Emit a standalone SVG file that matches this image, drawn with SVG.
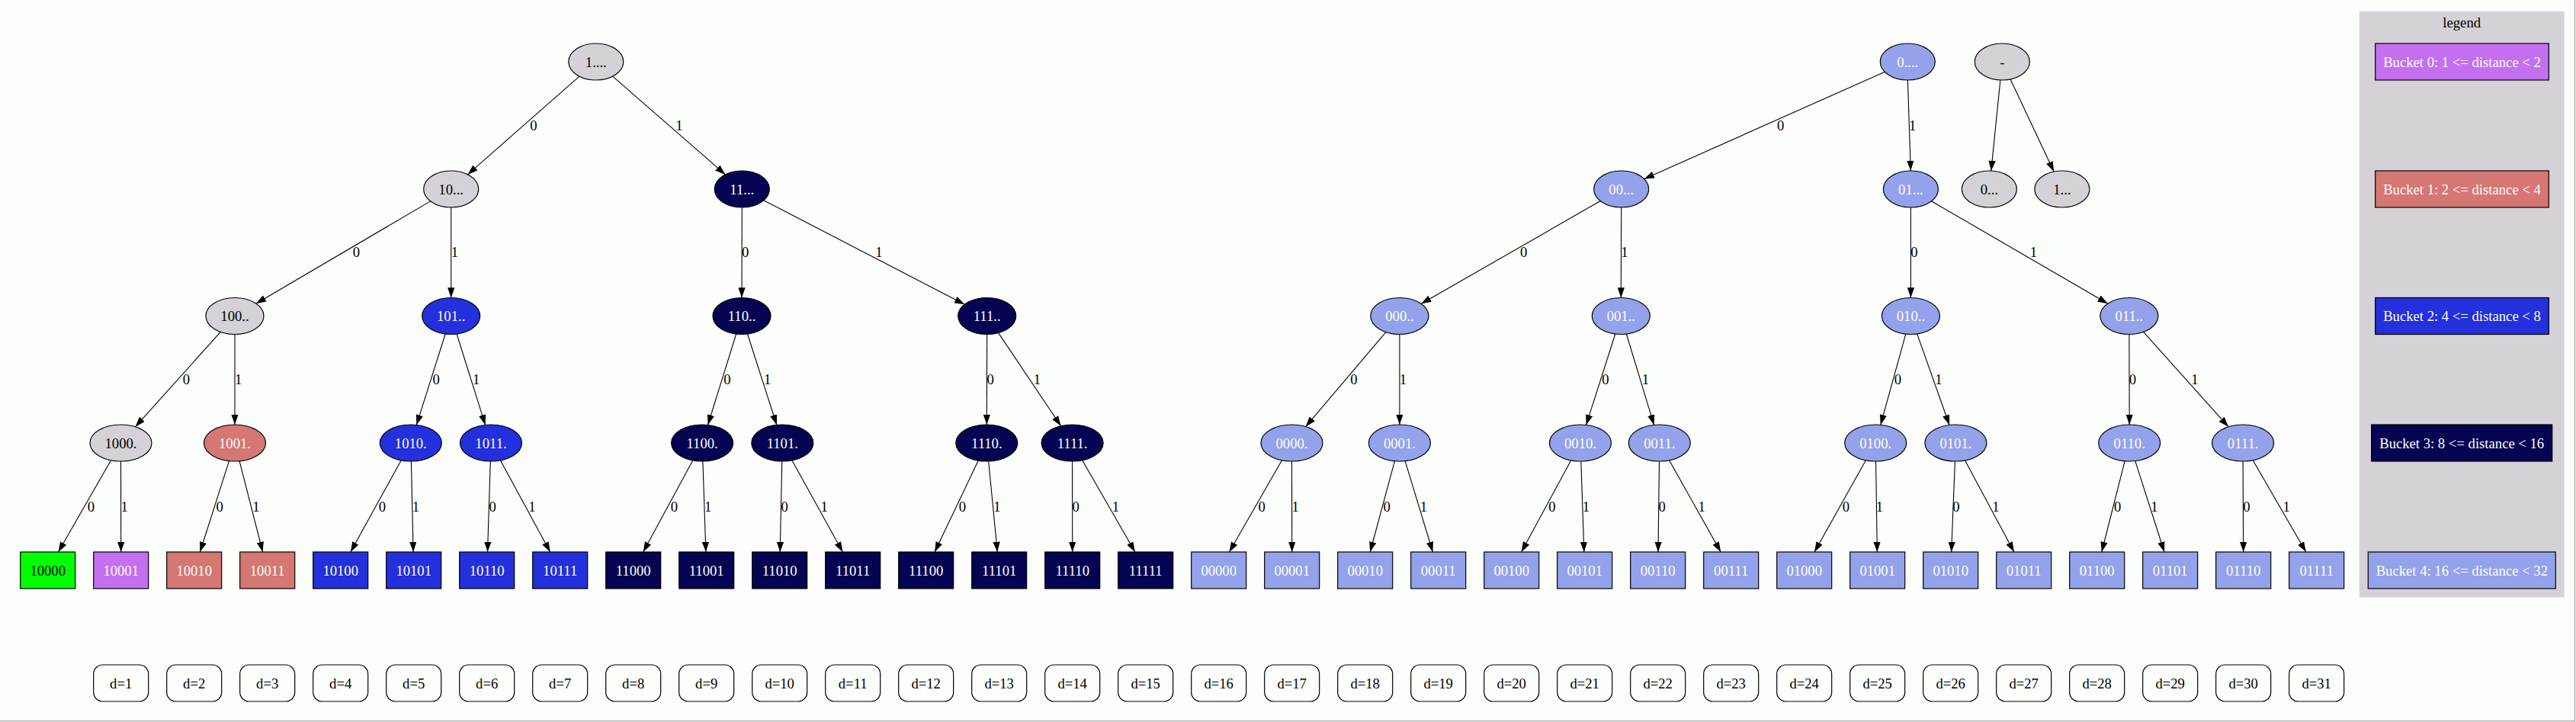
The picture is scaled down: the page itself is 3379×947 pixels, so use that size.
<svg xmlns="http://www.w3.org/2000/svg" width="3379" height="947" viewBox="0 0 3379 947">
<style>
text{font-family:"Liberation Serif","Times New Roman",serif;font-size:18.67px;text-anchor:middle}
.n ellipse,.n rect{stroke:#000;stroke-width:1.2}
.g{fill:#d4d2d6}.b0{fill:#c46ff0}.b1{fill:#d57773}.b2{fill:#2330dc}.b3{fill:#040452}.b4{fill:#93a2ea}.gr{fill:#00ff00}
.tw{fill:#fff}.tk{fill:#000}
.d rect{fill:none;stroke:#000;stroke-width:1.2}
.d text{fill:#000}
#edges path{fill:none;stroke:#000;stroke-width:1.1;marker-end:url(#ah)}
#edges text{fill:#000}
</style>
<defs>
<marker id="ah" markerUnits="userSpaceOnUse" markerWidth="13.3" markerHeight="9.33" viewBox="0 0 13.3 9.33" refX="13.3" refY="4.665" orient="auto"><path d="M0,0 L13.3,4.665 L0,9.33 z" fill="#000"/></marker>
</defs>
<rect x="0" y="0" width="3379" height="947" fill="#fcfefc"/>
<line x1="3377.5" y1="0" x2="3377.5" y2="946" stroke="#b0b0b0" stroke-width="1.5"/>
<line x1="0" y1="945.8" x2="3378" y2="945.8" stroke="#b0b0b0" stroke-width="1.5"/>

<g id="legend">
<rect x="3095" y="15" width="268.3" height="768.3" fill="#d4d2d6" stroke="#e0e0e0"/>
<text x="3229.2" y="35.5">legend</text>
<g id="lg0" class="n"><rect class="b0" x="3115.7" y="57" width="227.6" height="48"/><text class="tw" x="3229.5" y="87.5">Bucket 0: 1 &lt;= distance &lt; 2</text></g>
<g id="lg1" class="n"><rect class="b1" x="3115.7" y="224" width="227.6" height="48"/><text class="tw" x="3229.5" y="254.5">Bucket 1: 2 &lt;= distance &lt; 4</text></g>
<g id="lg2" class="n"><rect class="b2" x="3115.7" y="390.5" width="227.6" height="48"/><text class="tw" x="3229.5" y="421">Bucket 2: 4 &lt;= distance &lt; 8</text></g>
<g id="lg3" class="n"><rect class="b3" x="3110.7" y="557" width="237" height="48"/><text class="tw" x="3229.2" y="587.5">Bucket 3: 8 &lt;= distance &lt; 16</text></g>
<g id="lg4" class="n"><rect class="b4" x="3106.3" y="724" width="246" height="48"/><text class="tw" x="3229.3" y="754.5">Bucket 4: 16 &lt;= distance &lt; 32</text></g>
</g>

<g id="edges">
<path d="M760,100.1 L613.5,228.9"/><text x="700" y="170.5">0</text>
<path d="M803.7,100.1 L951.4,228.9"/><text x="890.8" y="170.5">1</text>
<path d="M564.7,263.9 L335.8,398.2"/><text x="467.3" y="337.3">0</text>
<path d="M591.7,272 L591.7,390.5"/><text x="596.4" y="337.3">1</text>
<path d="M973.3,272 L973,390.5"/><text x="977.7" y="337.3">0</text>
<path d="M1001.7,262.7 L1265.3,399.3"/><text x="1153" y="337.3">1</text>
<path d="M289.3,435.4 L177.5,559.8"/><text x="244.4" y="503.8">0</text>
<path d="M308,438.5 L308,557"/><text x="312.7" y="503.8">1</text>
<path d="M584.2,438 L546.3,557.4"/><text x="572.1" y="503.8">0</text>
<path d="M599.1,438 L636.6,557.4"/><text x="624.6" y="503.8">1</text>
<path d="M965.7,438 L928.5,557.4"/><text x="953.9" y="503.8">0</text>
<path d="M980.5,438 L1018.8,557.4"/><text x="1006.6" y="503.8">1</text>
<path d="M1294.7,438.5 L1294.3,557"/><text x="1299.2" y="503.8">0</text>
<path d="M1309.6,436.6 L1391.6,558.7"/><text x="1360.3" y="503.8">1</text>
<path d="M145.5,603.7 L76.5,724"/><text x="119.4" y="670.5">0</text>
<path d="M158.5,605 L158.7,724"/><text x="163.2" y="670.5">1</text>
<path d="M300.5,604.6 L262.4,724"/><text x="288.2" y="670.5">0</text>
<path d="M314.1,604.7 L344.6,724"/><text x="335.8" y="670.5">1</text>
<path d="M526.2,603.8 L459.9,724"/><text x="501.3" y="670.5">0</text>
<path d="M539.4,605 L542.1,724"/><text x="545.4" y="670.5">1</text>
<path d="M643.3,605 L639.5,724"/><text x="646.1" y="670.5">0</text>
<path d="M656.4,603.8 L721.7,724"/><text x="697.9" y="670.5">1</text>
<path d="M908.7,603.9 L843.7,724"/><text x="884.4" y="670.5">0</text>
<path d="M921.9,605 L925.9,724"/><text x="928.6" y="670.5">1</text>
<path d="M1025.8,605 L1023.2,724"/><text x="1029.2" y="670.5">0</text>
<path d="M1038.9,603.8 L1105.4,724"/><text x="1081.1" y="670.5">1</text>
<path d="M1283.3,604.1 L1226.1,724"/><text x="1262.5" y="670.5">0</text>
<path d="M1296.7,605 L1308.3,724"/><text x="1307.8" y="670.5">1</text>
<path d="M1406.6,605 L1406.7,724"/><text x="1411.2" y="670.5">0</text>
<path d="M1419.7,603.7 L1488.9,724"/><text x="1463.4" y="670.5">1</text>

<path d="M2472.4,94.3 L2156.7,234.7"/><text x="2335.7" y="170.5">0</text>
<path d="M2502.4,105 L2506.3,224"/><text x="2508.6" y="170.5">1</text>
<path d="M2623.9,105 L2611.8,224.1"/>
<path d="M2637.1,103.9 L2694.1,225.1"/>
<path d="M2099.4,263.6 L1864.1,398.4"/><text x="1998.7" y="337.3">0</text>
<path d="M2126.7,272 L2126.3,390.5"/><text x="2131" y="337.3">1</text>
<path d="M2506.4,272 L2506.4,390.5"/><text x="2511" y="337.3">0</text>
<path d="M2533.5,263.8 L2764.9,398.3"/><text x="2667.5" y="337.3">1</text>
<path d="M1817.9,435.7 L1712.7,559.6"/><text x="1775.8" y="503.8">0</text>
<path d="M1835.9,438.5 L1835.9,557"/><text x="1840.4" y="503.8">1</text>
<path d="M2118.8,438 L2080.6,557.4"/><text x="2105.8" y="503.8">0</text>
<path d="M2133.4,438 L2169.6,557.4"/><text x="2158.4" y="503.8">1</text>
<path d="M2499.8,438.1 L2466.8,557.3"/><text x="2489.3" y="503.8">0</text>
<path d="M2514.7,437.9 L2557.1,557.5"/><text x="2543" y="503.8">1</text>
<path d="M2792.9,438.5 L2793.2,557"/><text x="2797.4" y="503.8">0</text>
<path d="M2811.6,435.4 L2923.1,559.8"/><text x="2878.8" y="503.8">1</text>
<path d="M1681.5,603.7 L1612.5,724"/><text x="1655.1" y="670.5">0</text>
<path d="M1694.5,605 L1694.7,724"/><text x="1699.1" y="670.5">1</text>
<path d="M1829.5,604.7 L1797.2,724"/><text x="1819.2" y="670.5">0</text>
<path d="M1843.1,604.6 L1879.4,724"/><text x="1867.5" y="670.5">1</text>
<path d="M2060.6,603.9 L1995.7,724"/><text x="2035.8" y="670.5">0</text>
<path d="M2073.8,605 L2077.9,724"/><text x="2080.4" y="670.5">1</text>
<path d="M2176.5,605 L2175,724"/><text x="2180.2" y="670.5">0</text>
<path d="M2189.6,603.8 L2257.2,724"/><text x="2232.2" y="670.5">1</text>
<path d="M2447.4,603.8 L2380.1,724"/><text x="2421.4" y="670.5">0</text>
<path d="M2460.6,605 L2462.3,724"/><text x="2465.5" y="670.5">1</text>
<path d="M2564.4,605 L2559.7,724"/><text x="2566" y="670.5">0</text>
<path d="M2577.6,603.9 L2641.9,724"/><text x="2618" y="670.5">1</text>
<path d="M2787.2,604.7 L2756.8,724"/><text x="2777.7" y="670.5">0</text>
<path d="M2800.8,604.6 L2839,724"/><text x="2826" y="670.5">1</text>
<path d="M2942.1,605 L2942.7,724"/><text x="2946.9" y="670.5">0</text>
<path d="M2955.2,603.7 L3024.8,724"/><text x="2999.2" y="670.5">1</text>
</g>

<g id="n_1" class="n"><ellipse class="g" cx="781.8" cy="81" rx="36" ry="24"/><text class="tk" x="781.8" y="87.5">1....</text></g>
<g id="n_10" class="n"><ellipse class="g" cx="591.7" cy="248" rx="36" ry="24"/><text class="tk" x="591.7" y="254.5">10...</text></g>
<g id="n_11" class="n"><ellipse class="b3" cx="973.3" cy="248" rx="36" ry="24"/><text class="tw" x="973.3" y="254.5">11...</text></g>
<g id="n_100" class="n"><ellipse class="g" cx="308" cy="414.5" rx="38" ry="24"/><text class="tk" x="308" y="421">100..</text></g>
<g id="n_101" class="n"><ellipse class="b2" cx="591.7" cy="414.5" rx="38" ry="24"/><text class="tw" x="591.7" y="421">101..</text></g>
<g id="n_110" class="n"><ellipse class="b3" cx="973" cy="414.5" rx="38" ry="24"/><text class="tw" x="973" y="421">110..</text></g>
<g id="n_111" class="n"><ellipse class="b3" cx="1294.7" cy="414.5" rx="38" ry="24"/><text class="tw" x="1294.7" y="421">111..</text></g>
<g id="n_1000" class="n"><ellipse class="g" cx="158.5" cy="581" rx="40.5" ry="24"/><text class="tk" x="158.5" y="587.5">1000.</text></g>
<g id="n_1001" class="n"><ellipse class="b1" cx="308" cy="581" rx="40.5" ry="24"/><text class="tw" x="308" y="587.5">1001.</text></g>
<g id="n_1010" class="n"><ellipse class="b2" cx="538.8" cy="581" rx="40.5" ry="24"/><text class="tw" x="538.8" y="587.5">1010.</text></g>
<g id="n_1011" class="n"><ellipse class="b2" cx="644" cy="581" rx="40.5" ry="24"/><text class="tw" x="644" y="587.5">1011.</text></g>
<g id="n_1100" class="n"><ellipse class="b3" cx="921.1" cy="581" rx="40.5" ry="24"/><text class="tw" x="921.1" y="587.5">1100.</text></g>
<g id="n_1101" class="n"><ellipse class="b3" cx="1026.3" cy="581" rx="40.5" ry="24"/><text class="tw" x="1026.3" y="587.5">1101.</text></g>
<g id="n_1110" class="n"><ellipse class="b3" cx="1294.3" cy="581" rx="40.5" ry="24"/><text class="tw" x="1294.3" y="587.5">1110.</text></g>
<g id="n_1111" class="n"><ellipse class="b3" cx="1406.6" cy="581" rx="40.5" ry="24"/><text class="tw" x="1406.6" y="587.5">1111.</text></g>

<g id="n_0" class="n"><ellipse class="b4" cx="2502.3" cy="81" rx="36" ry="24"/><text class="tw" x="2502.3" y="87.5">0....</text></g>
<g id="n_dash" class="n"><ellipse class="g" cx="2626.3" cy="81" rx="36" ry="24"/><text class="tk" x="2626.3" y="87.5">-</text></g>
<g id="n_dash0" class="n"><ellipse class="g" cx="2609.4" cy="248" rx="36" ry="24"/><text class="tk" x="2609.4" y="254.5">0...</text></g>
<g id="n_dash1" class="n"><ellipse class="g" cx="2704.9" cy="248" rx="36" ry="24"/><text class="tk" x="2704.9" y="254.5">1...</text></g>
<g id="n_00" class="n"><ellipse class="b4" cx="2126.7" cy="248" rx="36" ry="24"/><text class="tw" x="2126.7" y="254.5">00...</text></g>
<g id="n_01" class="n"><ellipse class="b4" cx="2506.4" cy="248" rx="36" ry="24"/><text class="tw" x="2506.4" y="254.5">01...</text></g>
<g id="n_000" class="n"><ellipse class="b4" cx="1835.9" cy="414.5" rx="38" ry="24"/><text class="tw" x="1835.9" y="421">000..</text></g>
<g id="n_001" class="n"><ellipse class="b4" cx="2126.3" cy="414.5" rx="38" ry="24"/><text class="tw" x="2126.3" y="421">001..</text></g>
<g id="n_010" class="n"><ellipse class="b4" cx="2506.4" cy="414.5" rx="38" ry="24"/><text class="tw" x="2506.4" y="421">010..</text></g>
<g id="n_011" class="n"><ellipse class="b4" cx="2792.9" cy="414.5" rx="38" ry="24"/><text class="tw" x="2792.9" y="421">011..</text></g>
<g id="n_0000" class="n"><ellipse class="b4" cx="1694.5" cy="581" rx="40.5" ry="24"/><text class="tw" x="1694.5" y="587.5">0000.</text></g>
<g id="n_0001" class="n"><ellipse class="b4" cx="1835.9" cy="581" rx="40.5" ry="24"/><text class="tw" x="1835.9" y="587.5">0001.</text></g>
<g id="n_0010" class="n"><ellipse class="b4" cx="2073" cy="581" rx="40.5" ry="24"/><text class="tw" x="2073" y="587.5">0010.</text></g>
<g id="n_0011" class="n"><ellipse class="b4" cx="2176.8" cy="581" rx="40.5" ry="24"/><text class="tw" x="2176.8" y="587.5">0011.</text></g>
<g id="n_0100" class="n"><ellipse class="b4" cx="2460.2" cy="581" rx="40.5" ry="24"/><text class="tw" x="2460.2" y="587.5">0100.</text></g>
<g id="n_0101" class="n"><ellipse class="b4" cx="2565.4" cy="581" rx="40.5" ry="24"/><text class="tw" x="2565.4" y="587.5">0101.</text></g>
<g id="n_0110" class="n"><ellipse class="b4" cx="2793.2" cy="581" rx="40.5" ry="24"/><text class="tw" x="2793.2" y="587.5">0110.</text></g>
<g id="n_0111" class="n"><ellipse class="b4" cx="2942.1" cy="581" rx="40.5" ry="24"/><text class="tw" x="2942.1" y="587.5">0111.</text></g>

<g id="leaf_10000" class="n"><rect class="gr" x="26.7" y="724" width="72" height="48"/><text class="tk" x="62.7" y="754.5">10000</text></g>
<g id="leaf_10001" class="n"><rect class="b0" x="122.7" y="724" width="72" height="48"/><text class="tw" x="158.7" y="754.5">10001</text></g>
<g id="leaf_10010" class="n"><rect class="b1" x="218.7" y="724" width="72" height="48"/><text class="tw" x="254.7" y="754.5">10010</text></g>
<g id="leaf_10011" class="n"><rect class="b1" x="314.7" y="724" width="72" height="48"/><text class="tw" x="350.7" y="754.5">10011</text></g>
<g id="leaf_10100" class="n"><rect class="b2" x="410.7" y="724" width="72" height="48"/><text class="tw" x="446.7" y="754.5">10100</text></g>
<g id="leaf_10101" class="n"><rect class="b2" x="506.7" y="724" width="72" height="48"/><text class="tw" x="542.7" y="754.5">10101</text></g>
<g id="leaf_10110" class="n"><rect class="b2" x="602.7" y="724" width="72" height="48"/><text class="tw" x="638.7" y="754.5">10110</text></g>
<g id="leaf_10111" class="n"><rect class="b2" x="698.7" y="724" width="72" height="48"/><text class="tw" x="734.7" y="754.5">10111</text></g>
<g id="leaf_11000" class="n"><rect class="b3" x="794.7" y="724" width="72" height="48"/><text class="tw" x="830.7" y="754.5">11000</text></g>
<g id="leaf_11001" class="n"><rect class="b3" x="890.7" y="724" width="72" height="48"/><text class="tw" x="926.7" y="754.5">11001</text></g>
<g id="leaf_11010" class="n"><rect class="b3" x="986.7" y="724" width="72" height="48"/><text class="tw" x="1022.7" y="754.5">11010</text></g>
<g id="leaf_11011" class="n"><rect class="b3" x="1082.7" y="724" width="72" height="48"/><text class="tw" x="1118.7" y="754.5">11011</text></g>
<g id="leaf_11100" class="n"><rect class="b3" x="1178.7" y="724" width="72" height="48"/><text class="tw" x="1214.7" y="754.5">11100</text></g>
<g id="leaf_11101" class="n"><rect class="b3" x="1274.7" y="724" width="72" height="48"/><text class="tw" x="1310.7" y="754.5">11101</text></g>
<g id="leaf_11110" class="n"><rect class="b3" x="1370.7" y="724" width="72" height="48"/><text class="tw" x="1406.7" y="754.5">11110</text></g>
<g id="leaf_11111" class="n"><rect class="b3" x="1466.7" y="724" width="72" height="48"/><text class="tw" x="1502.7" y="754.5">11111</text></g>
<g id="leaf_00000" class="n"><rect class="b4" x="1562.7" y="724" width="72" height="48"/><text class="tw" x="1598.7" y="754.5">00000</text></g>
<g id="leaf_00001" class="n"><rect class="b4" x="1658.7" y="724" width="72" height="48"/><text class="tw" x="1694.7" y="754.5">00001</text></g>
<g id="leaf_00010" class="n"><rect class="b4" x="1754.7" y="724" width="72" height="48"/><text class="tw" x="1790.7" y="754.5">00010</text></g>
<g id="leaf_00011" class="n"><rect class="b4" x="1850.7" y="724" width="72" height="48"/><text class="tw" x="1886.7" y="754.5">00011</text></g>
<g id="leaf_00100" class="n"><rect class="b4" x="1946.7" y="724" width="72" height="48"/><text class="tw" x="1982.7" y="754.5">00100</text></g>
<g id="leaf_00101" class="n"><rect class="b4" x="2042.7" y="724" width="72" height="48"/><text class="tw" x="2078.7" y="754.5">00101</text></g>
<g id="leaf_00110" class="n"><rect class="b4" x="2138.7" y="724" width="72" height="48"/><text class="tw" x="2174.7" y="754.5">00110</text></g>
<g id="leaf_00111" class="n"><rect class="b4" x="2234.7" y="724" width="72" height="48"/><text class="tw" x="2270.7" y="754.5">00111</text></g>
<g id="leaf_01000" class="n"><rect class="b4" x="2330.7" y="724" width="72" height="48"/><text class="tw" x="2366.7" y="754.5">01000</text></g>
<g id="leaf_01001" class="n"><rect class="b4" x="2426.7" y="724" width="72" height="48"/><text class="tw" x="2462.7" y="754.5">01001</text></g>
<g id="leaf_01010" class="n"><rect class="b4" x="2522.7" y="724" width="72" height="48"/><text class="tw" x="2558.7" y="754.5">01010</text></g>
<g id="leaf_01011" class="n"><rect class="b4" x="2618.7" y="724" width="72" height="48"/><text class="tw" x="2654.7" y="754.5">01011</text></g>
<g id="leaf_01100" class="n"><rect class="b4" x="2714.7" y="724" width="72" height="48"/><text class="tw" x="2750.7" y="754.5">01100</text></g>
<g id="leaf_01101" class="n"><rect class="b4" x="2810.7" y="724" width="72" height="48"/><text class="tw" x="2846.7" y="754.5">01101</text></g>
<g id="leaf_01110" class="n"><rect class="b4" x="2906.7" y="724" width="72" height="48"/><text class="tw" x="2942.7" y="754.5">01110</text></g>
<g id="leaf_01111" class="n"><rect class="b4" x="3002.7" y="724" width="72" height="48"/><text class="tw" x="3038.7" y="754.5">01111</text></g>

<g id="d1" class="d"><rect x="122.7" y="872" width="72" height="48" rx="12"/><text x="158.7" y="902.5">d=1</text></g>
<g id="d2" class="d"><rect x="218.7" y="872" width="72" height="48" rx="12"/><text x="254.7" y="902.5">d=2</text></g>
<g id="d3" class="d"><rect x="314.7" y="872" width="72" height="48" rx="12"/><text x="350.7" y="902.5">d=3</text></g>
<g id="d4" class="d"><rect x="410.7" y="872" width="72" height="48" rx="12"/><text x="446.7" y="902.5">d=4</text></g>
<g id="d5" class="d"><rect x="506.7" y="872" width="72" height="48" rx="12"/><text x="542.7" y="902.5">d=5</text></g>
<g id="d6" class="d"><rect x="602.7" y="872" width="72" height="48" rx="12"/><text x="638.7" y="902.5">d=6</text></g>
<g id="d7" class="d"><rect x="698.7" y="872" width="72" height="48" rx="12"/><text x="734.7" y="902.5">d=7</text></g>
<g id="d8" class="d"><rect x="794.7" y="872" width="72" height="48" rx="12"/><text x="830.7" y="902.5">d=8</text></g>
<g id="d9" class="d"><rect x="890.7" y="872" width="72" height="48" rx="12"/><text x="926.7" y="902.5">d=9</text></g>
<g id="d10" class="d"><rect x="986.7" y="872" width="72" height="48" rx="12"/><text x="1022.7" y="902.5">d=10</text></g>
<g id="d11" class="d"><rect x="1082.7" y="872" width="72" height="48" rx="12"/><text x="1118.7" y="902.5">d=11</text></g>
<g id="d12" class="d"><rect x="1178.7" y="872" width="72" height="48" rx="12"/><text x="1214.7" y="902.5">d=12</text></g>
<g id="d13" class="d"><rect x="1274.7" y="872" width="72" height="48" rx="12"/><text x="1310.7" y="902.5">d=13</text></g>
<g id="d14" class="d"><rect x="1370.7" y="872" width="72" height="48" rx="12"/><text x="1406.7" y="902.5">d=14</text></g>
<g id="d15" class="d"><rect x="1466.7" y="872" width="72" height="48" rx="12"/><text x="1502.7" y="902.5">d=15</text></g>
<g id="d16" class="d"><rect x="1562.7" y="872" width="72" height="48" rx="12"/><text x="1598.7" y="902.5">d=16</text></g>
<g id="d17" class="d"><rect x="1658.7" y="872" width="72" height="48" rx="12"/><text x="1694.7" y="902.5">d=17</text></g>
<g id="d18" class="d"><rect x="1754.7" y="872" width="72" height="48" rx="12"/><text x="1790.7" y="902.5">d=18</text></g>
<g id="d19" class="d"><rect x="1850.7" y="872" width="72" height="48" rx="12"/><text x="1886.7" y="902.5">d=19</text></g>
<g id="d20" class="d"><rect x="1946.7" y="872" width="72" height="48" rx="12"/><text x="1982.7" y="902.5">d=20</text></g>
<g id="d21" class="d"><rect x="2042.7" y="872" width="72" height="48" rx="12"/><text x="2078.7" y="902.5">d=21</text></g>
<g id="d22" class="d"><rect x="2138.7" y="872" width="72" height="48" rx="12"/><text x="2174.7" y="902.5">d=22</text></g>
<g id="d23" class="d"><rect x="2234.7" y="872" width="72" height="48" rx="12"/><text x="2270.7" y="902.5">d=23</text></g>
<g id="d24" class="d"><rect x="2330.7" y="872" width="72" height="48" rx="12"/><text x="2366.7" y="902.5">d=24</text></g>
<g id="d25" class="d"><rect x="2426.7" y="872" width="72" height="48" rx="12"/><text x="2462.7" y="902.5">d=25</text></g>
<g id="d26" class="d"><rect x="2522.7" y="872" width="72" height="48" rx="12"/><text x="2558.7" y="902.5">d=26</text></g>
<g id="d27" class="d"><rect x="2618.7" y="872" width="72" height="48" rx="12"/><text x="2654.7" y="902.5">d=27</text></g>
<g id="d28" class="d"><rect x="2714.7" y="872" width="72" height="48" rx="12"/><text x="2750.7" y="902.5">d=28</text></g>
<g id="d29" class="d"><rect x="2810.7" y="872" width="72" height="48" rx="12"/><text x="2846.7" y="902.5">d=29</text></g>
<g id="d30" class="d"><rect x="2906.7" y="872" width="72" height="48" rx="12"/><text x="2942.7" y="902.5">d=30</text></g>
<g id="d31" class="d"><rect x="3002.7" y="872" width="72" height="48" rx="12"/><text x="3038.7" y="902.5">d=31</text></g>
</svg>
